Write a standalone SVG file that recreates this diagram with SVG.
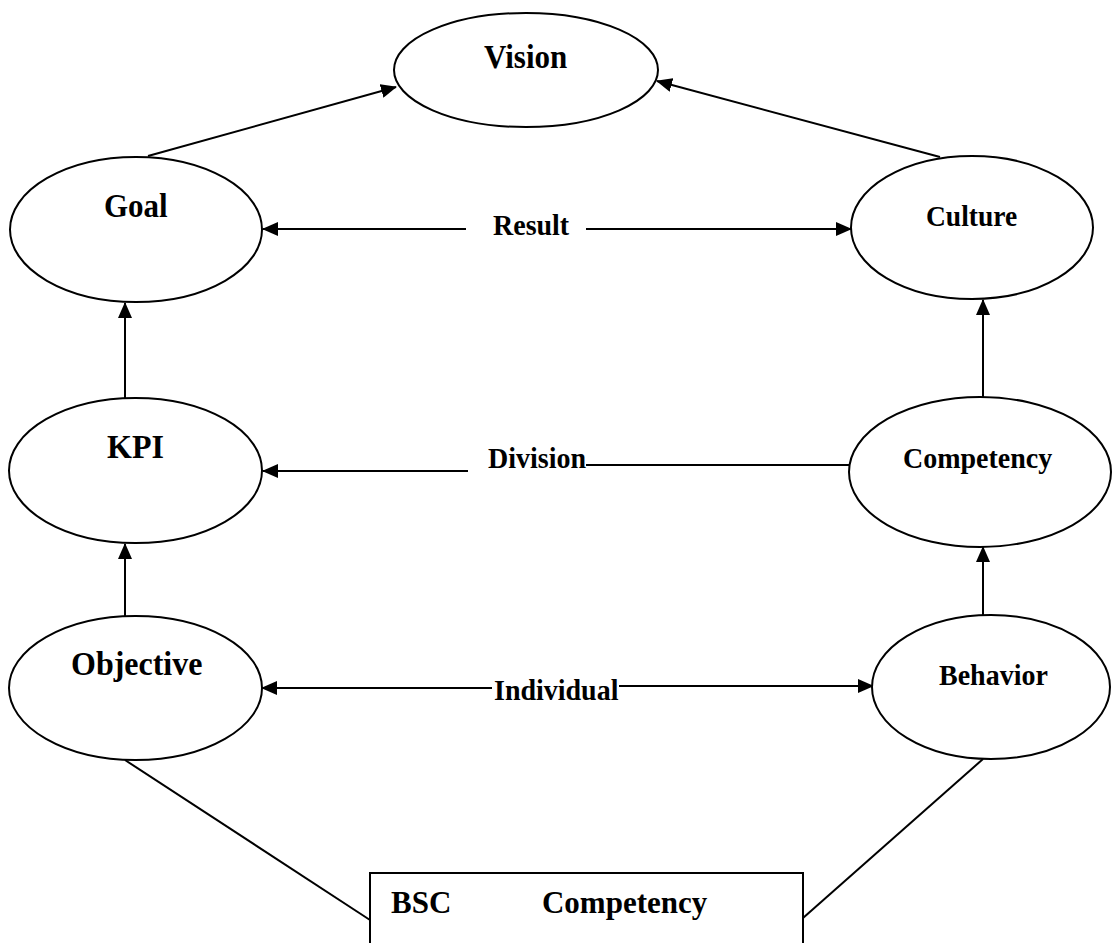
<svg xmlns="http://www.w3.org/2000/svg" width="1112" height="943" viewBox="0 0 1112 943">
<style>
.n{fill:#fff;stroke:#000;stroke-width:2}
.t{font-family:"Liberation Serif","Times New Roman",serif;font-weight:bold;fill:#000}
.c{stroke:#000;stroke-width:2;fill:none}
</style>
<defs>
<marker id="ah" markerUnits="userSpaceOnUse" markerWidth="16" markerHeight="14" refX="15" refY="7" orient="auto-start-reverse" viewBox="0 0 16 14">
<path d="M0,0 L16,7 L0,14 z" fill="#000"/>
</marker>
</defs>
<rect width="1112" height="943" fill="#fff"/>
<g id="connectors">
<line class="c" x1="148" y1="156" x2="396" y2="87" marker-end="url(#ah)"/>
<line class="c" x1="940" y1="157" x2="657" y2="81" marker-end="url(#ah)"/>
<line class="c" x1="466" y1="229" x2="263" y2="229" marker-end="url(#ah)"/>
<line class="c" x1="586" y1="229" x2="851" y2="229" marker-end="url(#ah)"/>
<line class="c" x1="125" y1="398" x2="125" y2="303" marker-end="url(#ah)"/>
<line class="c" x1="125" y1="616" x2="125" y2="544" marker-end="url(#ah)"/>
<line class="c" x1="983" y1="397" x2="983" y2="300" marker-end="url(#ah)"/>
<line class="c" x1="983" y1="615" x2="983" y2="547" marker-end="url(#ah)"/>
<line class="c" x1="468" y1="471" x2="263" y2="471" marker-end="url(#ah)"/>
<line class="c" x1="586" y1="465" x2="849" y2="465"/>
<line class="c" x1="492" y1="688" x2="262" y2="688" marker-end="url(#ah)"/>
<line class="c" x1="619" y1="686" x2="873" y2="686" marker-end="url(#ah)"/>
<line class="c" x1="125" y1="760" x2="370" y2="920"/>
<line class="c" x1="983" y1="759" x2="803" y2="918"/>
<text class="t" transform="translate(493,235) scale(1,1.08)" font-size="28">Result</text>
<text class="t" transform="translate(488,468) scale(1,1.08)" font-size="28">Division</text>
<text class="t" transform="translate(494,700) scale(1,1.08)" font-size="28">Individual</text>
</g>
<g id="vision"><ellipse class="n" cx="526" cy="70" rx="132" ry="57"/><text class="t" transform="translate(484,68) scale(1,1.08)" font-size="31">Vision</text></g>
<g id="goal"><ellipse class="n" cx="136" cy="229.5" rx="126" ry="72.5"/><text class="t" transform="translate(104,217) scale(1,1.08)" font-size="31">Goal</text></g>
<g id="culture"><ellipse class="n" cx="972" cy="227.5" rx="121" ry="71.5"/><text class="t" transform="translate(926,226) scale(1,1.08)" font-size="27.5">Culture</text></g>
<g id="kpi"><ellipse class="n" cx="135.5" cy="470.5" rx="126.5" ry="72.5"/><text class="t" transform="translate(107,458) scale(1,1.05)" font-size="32">KPI</text></g>
<g id="competency"><ellipse class="n" cx="980" cy="472" rx="131" ry="75"/><text class="t" transform="translate(903,468) scale(1,1.08)" font-size="28">Competency</text></g>
<g id="objective"><ellipse class="n" cx="135.5" cy="688" rx="126.5" ry="72"/><text class="t" transform="translate(71,675) scale(1,1.05)" font-size="32">Objective</text></g>
<g id="behavior"><ellipse class="n" cx="991" cy="687" rx="119" ry="72"/><text class="t" transform="translate(939,685) scale(1,1.08)" font-size="28">Behavior</text></g>
<g id="box"><rect class="n" x="370" y="873" width="433" height="100"/><text class="t" transform="translate(391,913) scale(1,1.05)" font-size="31">BSC</text><text class="t" transform="translate(542,913) scale(1,1.05)" font-size="31">Competency</text></g>
</svg>
